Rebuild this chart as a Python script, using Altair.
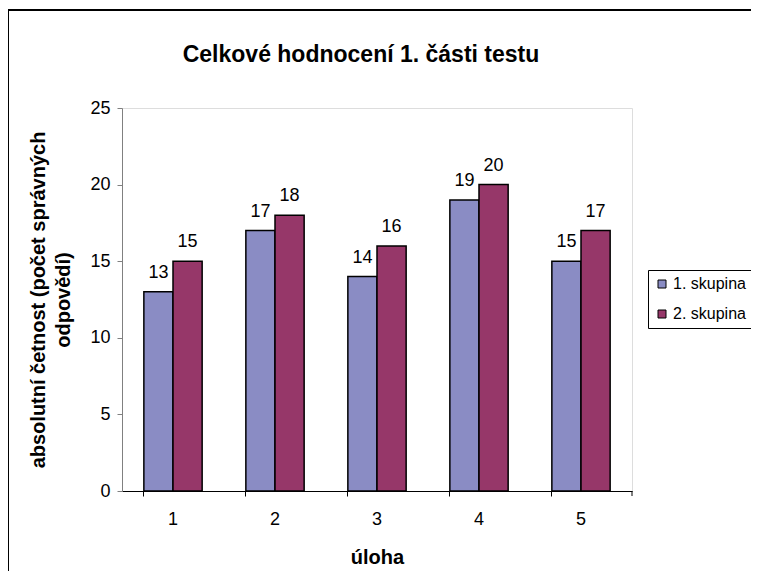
import altair as alt
import pandas as pd

ulohy = ["1", "2", "3", "4", "5"]
skupina1 = [13, 17, 14, 19, 15]
skupina2 = [15, 18, 16, 20, 17]
skupiny = ["1. skupina", "2. skupina"]
barvy = ["#8A8CC4", "#963769"]

rows = []
for u, a, b in zip(ulohy, skupina1, skupina2):
    rows.append({"uloha": u, "skupina": skupiny[0], "hodnota": a})
    rows.append({"uloha": u, "skupina": skupiny[1], "hodnota": b})
df = pd.DataFrame(rows)

FONT = "Liberation Sans"
W, H = 510, 383

x = alt.X("uloha:N", title="úloha",
          scale=alt.Scale(paddingInner=0.4286, paddingOuter=0.2143),
          axis=alt.Axis(labelAngle=0, bandPosition=0, tickSize=5, labelPadding=14,
                        titlePadding=19, domainColor="#000", tickColor="#000",
                        labelFontSize=18, titleFontSize=20, titleFontWeight="bold",
                        labelFont=FONT, titleFont=FONT, labelColor="#000", titleColor="#000"))
y = alt.Y("hodnota:Q",
          title=["absolutní četnost (počet správných", "odpovědí)"],
          scale=alt.Scale(domain=[0, 25], nice=False),
          axis=alt.Axis(values=[0, 5, 10, 15, 20, 25], grid=False, tickSize=5,
                        labelPadding=7, titlePadding=16, domainColor="#808080",
                        tickColor="#808080", labelFontSize=18, titleFontSize=20,
                        titleFontWeight="bold", titleLineHeight=25, labelFont=FONT,
                        titleFont=FONT, labelColor="#000", titleColor="#000"))
color = alt.Color("skupina:N", scale=alt.Scale(domain=skupiny, range=barvy),
                  legend=alt.Legend(title=None, orient="none", legendX=526, legendY=162,
                                    symbolType="square", symbolSize=64, symbolStrokeColor="#000",
                                    symbolStrokeWidth=1, labelFontSize=16, labelFont=FONT,
                                    labelColor="#000", labelOffset=3, rowPadding=14,
                                    padding=6, strokeColor="#000", fillColor="#fff",
                                    symbolOpacity=1))

base = alt.Chart(df)
bars = base.mark_bar(stroke="#000", strokeWidth=1.5).encode(
    x=x, xOffset=alt.XOffset("skupina:N", sort=skupiny), y=y, color=color)
labels = base.mark_text(baseline="alphabetic", dy=-14, fontSize=18, font=FONT, color="#000").encode(
    x=x, xOffset=alt.XOffset("skupina:N", sort=skupiny), y=y, text="hodnota:Q")
endtick = alt.Chart(pd.DataFrame({"a": [0]})).mark_rule(color="#000").encode(
    x=alt.value(W), y=alt.value(H), y2=alt.value(H + 5))
border = alt.Chart(pd.DataFrame({"a": [0]})).mark_rect(
    fill=None, stroke="#000", strokeWidth=2, fillOpacity=0).encode(
    x=alt.value(-114), x2=alt.value(W + 300), y=alt.value(-98), y2=alt.value(H + 300))

chart = alt.layer(border, bars, labels, endtick).properties(
    width=W, height=H,
    title=alt.TitleParams("Celkové hodnocení 1. části testu", fontSize=23, fontWeight="bold",
                          font=FONT, color="#000", offset=-58, anchor="middle", frame="group",
                          dx=-16),
    autosize=alt.AutoSizeParams(type="none"),
    padding={"left": 114, "top": 100, "right": 119, "bottom": 80},
).configure_view(stroke=None).configure(background="#fff")

chart.save("out.html", embed_options={"renderer": "svg", "actions": False})
